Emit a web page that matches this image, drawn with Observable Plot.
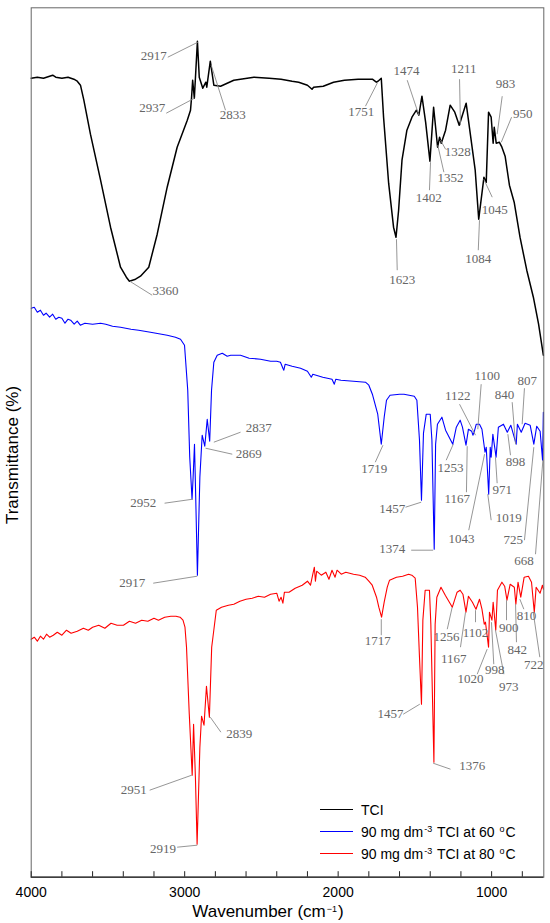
<!DOCTYPE html>
<html><head><meta charset="utf-8">
<script src="https://cdn.jsdelivr.net/npm/d3@7"></script>
<script src="https://cdn.jsdelivr.net/npm/@observablehq/plot@0.6"></script>
<style>
body{margin:0;background:#fff;}
#wrap{position:relative;width:550px;height:923px;font-family:"Liberation Sans",Arial,sans-serif;color:#000;}
#wrap svg{position:absolute;left:0;top:0;}
.ov{position:absolute;white-space:nowrap;}
.lg-row{height:22px;line-height:22px;font-size:14px;display:flex;align-items:center;}
.lg-line{display:inline-block;width:33px;height:1.6px;margin-right:8px;}
sup{font-size:9px;vertical-align:5px;line-height:0;margin:0 1px;}
</style></head><body><div id="wrap"></div>
<script>
// ---- data: [wavenumber (cm-1), transmittance (offset, a.u.)] ----
const tci = [[4000,79.9],[3960,80.0],[3920,79.9],[3880,80.1],[3860,80.2],[3840,80.0],[3800,79.9],[3760,80.0],[3722,79.8],[3700,79.6],[3679,79.2],[3657,77.7],[3614,74.3],[3548,69.7],[3483,65.0],[3418,61.0],[3380,60.0],[3360,59.6],[3320,59.8],[3288,60.1],[3234,61.0],[3179,64.3],[3114,69.0],[3049,73.0],[2983,75.7],[2962,76.7],[2955,78.0],[2948,79.7],[2937,77.9],[2917,83.6],[2905,80.0],[2882,78.9],[2862,79.5],[2856,79.0],[2833,81.6],[2810,79.2],[2766,79.1],[2680,79.7],[2549,80.0],[2450,79.9],[2372,79.8],[2300,79.6],[2257,79.5],[2200,79.2],[2170,78.8],[2160,79.0],[2097,79.1],[2030,79.5],[1959,79.7],[1870,79.8],[1777,79.8],[1751,79.5],[1740,79.6],[1719,79.9],[1704,76.0],[1671,69.4],[1639,65.0],[1623,64.0],[1606,66.7],[1584,71.7],[1552,74.7],[1519,76.0],[1490,76.7],[1474,76.2],[1454,78.1],[1430,75.5],[1402,71.6],[1378,77.0],[1352,73.0],[1339,74.0],[1328,73.4],[1300,74.7],[1270,77.2],[1240,76.5],[1211,75.2],[1166,77.4],[1107,70.7],[1084,65.8],[1050,70.0],[1035,69.5],[1020,76.5],[1003,76.0],[990,73.4],[983,75.0],[970,73.4],[950,73.5],[933,73.0],[912,72.1],[884,69.2],[853,67.5],[815,64.0],[771,60.7],[728,58.0],[694,55.3],[663,52.2]];

const tci60 = [[4000,56.9],[3980,57.0],[3960,56.5],[3940,56.7],[3920,56.2],[3903,56.4],[3880,56.0],[3860,56.3],[3840,55.8],[3820,56.0],[3800,55.9],[3780,55.4],[3760,55.8],[3743,55.7],[3720,55.3],[3700,55.6],[3680,55.2],[3650,55.4],[3600,55.3],[3548,55.4],[3514,55.3],[3470,55.1],[3418,55.0],[3350,54.8],[3300,54.7],[3223,54.5],[3150,54.3],[3114,54.2],[3060,54.0],[3027,53.8],[3001,53.2],[2980,48.7],[2967,42.0],[2952,37.8],[2945,40.0],[2936,43.3],[2928,38.0],[2917,30.2],[2901,40.0],[2886,44.2],[2869,43.1],[2853,45.8],[2837,43.6],[2825,48.7],[2810,51.5],[2788,52.2],[2755,52.4],[2723,52.1],[2700,52.2],[2636,52.2],[2580,51.9],[2506,51.8],[2440,51.6],[2400,51.6],[2376,51.5],[2360,50.9],[2354,50.7],[2345,51.3],[2300,51.1],[2245,50.9],[2200,50.6],[2175,50.0],[2165,50.3],[2100,50.0],[2040,49.8],[2025,49.3],[2015,49.8],[1982,49.7],[1900,49.6],[1822,49.5],[1800,49.2],[1777,48.3],[1742,46.3],[1719,43.3],[1700,46.0],[1685,47.7],[1662,48.2],[1600,48.3],[1571,48.3],[1504,48.1],[1487,47.7],[1470,43.7],[1457,37.7],[1444,44.4],[1426,46.3],[1400,46.3],[1389,43.7],[1374,32.8],[1365,43.3],[1353,45.3],[1324,46.0],[1300,44.7],[1253,43.3],[1230,45.0],[1205,45.7],[1190,45.0],[1167,43.2],[1151,44.8],[1130,44.6],[1122,44.2],[1114,44.5],[1100,45.3],[1079,45.3],[1063,44.8],[1043,42.5],[1035,43.0],[1019,38.3],[1009,43.0],[1003,42.0],[992,44.3],[971,42.0],[956,45.0],[923,45.3],[898,44.5],[875,45.2],[840,43.3],[832,45.3],[807,44.5],[782,45.4],[749,45.2],[725,43.3],[706,45.1],[684,44.6],[668,41.7],[663,46.5]];

const tci80 = [[4000,23.8],[3980,24.0],[3960,23.6],[3940,24.1],[3920,23.8],[3900,24.3],[3880,24.0],[3856,24.2],[3830,24.5],[3800,24.2],[3770,24.7],[3740,24.4],[3700,24.6],[3660,24.9],[3628,24.7],[3600,25.0],[3560,25.2],[3520,24.9],[3480,25.4],[3440,25.2],[3399,25.2],[3360,25.6],[3320,25.4],[3280,25.7],[3240,25.6],[3200,25.9],[3171,25.7],[3130,26.0],[3090,26.1],[3057,26.1],[3030,26.0],[3011,25.7],[2998,25.0],[2988,23.0],[2970,16.3],[2951,10.2],[2942,15.3],[2930,10.0],[2919,3.3],[2901,13.0],[2890,16.1],[2874,15.2],[2858,19.1],[2839,16.0],[2824,23.0],[2794,26.7],[2760,27.0],[2715,27.2],[2680,27.3],[2640,27.6],[2600,27.8],[2560,27.9],[2520,28.1],[2480,28.0],[2440,28.3],[2400,28.4],[2385,27.6],[2372,28.0],[2360,27.4],[2350,28.5],[2320,28.5],[2280,28.9],[2234,29.2],[2200,29.6],[2180,29.2],[2165,30.3],[2155,31.0],[2148,29.6],[2140,30.6],[2110,30.2],[2080,30.5],[2060,29.8],[2040,30.7],[2020,30.0],[2007,30.7],[1980,30.3],[1950,30.5],[1900,30.3],[1860,30.2],[1824,30.0],[1800,29.6],[1778,29.2],[1750,28.0],[1735,27.0],[1717,26.0],[1700,27.5],[1680,29.0],[1665,29.7],[1620,30.0],[1580,30.1],[1541,30.3],[1520,30.2],[1498,29.9],[1483,27.0],[1470,22.0],[1457,17.3],[1448,25.7],[1433,28.7],[1405,28.7],[1396,25.3],[1376,11.5],[1368,25.3],[1357,28.0],[1330,29.0],[1302,28.2],[1256,27.0],[1225,28.5],[1205,28.7],[1187,28.3],[1167,26.5],[1151,28.1],[1125,27.5],[1102,26.8],[1079,27.8],[1063,26.8],[1048,25.3],[1040,25.5],[1020,23.0],[1014,26.5],[998,25.7],[990,27.5],[973,24.7],[962,28.7],[933,29.5],[915,29.1],[900,27.7],[879,29.3],[852,29.0],[842,27.3],[828,29.5],[810,28.0],[788,30.0],[760,30.1],[740,29.5],[722,26.5],[710,29.0],[684,28.4],[669,29.2],[663,28.8]];

// peak annotations: [label, textWn, textT, leaderWn1, leaderT1, leaderWn2, leaderT2]
const tciPeaks = [["2917",3201,82.1,3110,82.0,2914,83.5],["2937",3212,76.9,3120,76.4,2936,77.9],["2833",2686,76.2,2734,76.7,2827,81.2],["3360",3125,58.6,3212,58.2,3358,59.6],["1751",1850,76.5,1822,77.1,1742,79.5],["1474",1555,80.6,1550,79.7,1474,76.2],["1211",1181,80.8,1209,79.8,1203,75.2],["983",909,79.3,931,78.1,964,74.3],["950",797,76.3,870,76.0,937,73.5],["1328",1220,72.5,1300,72.8,1333,73.7],["1352",1268,69.9,1311,70.5,1351,73.2],["1402",1409,67.9,1405,68.7,1398,71.5],["1045",979,66.7,996,68.0,1051,69.8],["1084",1087,61.8,1087,62.7,1079,65.7],["1623",1583,59.7,1615,60.7,1620,63.8]];
const tci60Peaks = [["2837",2517,44.9,2636,44.5,2810,43.5],["2869",2582,42.3,2690,42.3,2864,42.9],["2952",3270,37.4,3131,37.4,2947,37.8],["2917",3342,29.4,3205,29.4,2918,30.1],["1719",1765,40.8,1758,41.5,1708,43.2],["1457",1648,36.8,1561,37.0,1459,37.5],["1374",1648,32.8,1524,32.7,1381,32.7],["1253",1268,40.9,1296,41.7,1250,43.3],["1167",1224,37.8,1164,38.5,1159,43.1],["1122",1220,48.1,1209,47.3,1105,44.2],["1100",1029,50.1,1068,49.3,1090,44.8],["1043",1196,33.8,1149,34.7,1046,42.3],["1019",888,35.9,1003,35.7,1025,38.3],["971",931,38.7,964,39.4,975,42.0],["898",844,41.5,877,42.2,894,44.3],["840",916,48.2,866,47.5,844,43.3],["807",768,49.6,786,48.9,801,45.3],["725",859,33.7,786,33.7,725,43.0],["668",789,31.6,714,32.3,666,41.7]];
const tci80Peaks = [["1717",1742,23.6,1719,24.2,1719,25.8],["1457",1659,16.3,1576,16.3,1468,17.3],["1376",1126,11.1,1268,10.8,1381,11.4],["1256",1294,24.0,1289,24.8,1257,27.0],["1167",1246,21.8,1203,23.0,1170,26.5],["1102",1105,24.4,1105,25.5,1105,26.7],["1020",1137,19.8,1094,20.3,1029,22.8],["998",979,20.7,986,21.3,1001,25.5],["973",888,19.0,920,20.3,975,24.7],["900",888,24.9,903,25.7,903,27.7],["842",833,22.7,838,23.5,844,27.3],["810",773,26.1,790,26.8,816,27.8],["722",725,21.2,686,22.0,729,26.5],["2839",2645,14.3,2764,14.5,2833,16.0],["2951",3331,8.7,3228,8.7,2954,10.2],["2919",3142,2.8,3049,3.0,2918,3.2]];

const xTicks = [4000, 3000, 2000, 1000];
const minorTicks = [4000,3800,3600,3400,3200,3000,2800,2600,2400,2200,2000,1800,1600,1400,1200,1000,800];
const seriesNames = ["TCI", "90 mg dm-3 TCI at 60 oC", "90 mg dm-3 TCI at 80 oC"];
const seriesColors = ["#000000", "#0000ff", "#ff0000"];
const seriesData = [tci, tci60, tci80];

const peaks = [...tciPeaks, ...tci60Peaks, ...tci80Peaks];

const lineMarks = seriesData.map((d, i) => Plot.line(d, {x: p => p[0], y: p => p[1], stroke: seriesColors[i], strokeWidth: i === 0 ? 1.5 : 1.1, curve: "linear"}));

const chart = Plot.plot({
  width: 550, height: 923,
  marginLeft: 30.7, marginRight: 6.7, marginTop: 7.3, marginBottom: 46.3,
  style: {fontFamily: "Liberation Sans, Arial, sans-serif", fontSize: "14px", background: "white", color: "#000"},
  x: {domain: [4000, 660]},
  y: {domain: [0, 86.94], axis: null},
  marks: [
    ...lineMarks,
    Plot.link(peaks, {x1: d => d[3], y1: d => d[4], x2: d => d[5], y2: d => d[6], stroke: "#8a8a8a", strokeWidth: 0.9}),
    Plot.text(peaks, {x: d => d[1], y: d => d[2], text: d => d[0], fontFamily: "Liberation Serif, serif", fontSize: 13, fill: "#666666", textAnchor: "middle", lineAnchor: "middle"}),
    Plot.frame({stroke: "#666"}),
    Plot.ruleY([0], {stroke: "#222", strokeWidth: 1.2}),
    Plot.ruleX(minorTicks, {x: d => d, y1: 0, y2: 0.55, stroke: "#222"}),
    Plot.axisX(xTicks, {tickSize: 0, tickPadding: 10, tickFormat: d => String(d), label: null, fontSize: 14})
  ]
});

const wrap = document.getElementById("wrap");
wrap.appendChild(chart);

// axis titles
const xt = document.createElement("div");
xt.className = "ov";
xt.style.cssText = "left:268px;top:902px;transform:translateX(-50%);font-size:17px;line-height:19px;";
xt.innerHTML = "Wavenumber (cm<sup>&minus;1</sup>)";
wrap.appendChild(xt);

const yt = document.createElement("div");
yt.className = "ov";
yt.style.cssText = "left:13px;top:455px;transform:translate(-50%,-50%) rotate(-90deg);font-size:17px;line-height:20px;";
yt.textContent = "Transmittance (%)";
wrap.appendChild(yt);

// legend
const lg = document.createElement("div");
lg.className = "ov";
lg.style.cssText = "left:320px;top:798.5px;";
const legendHtml = [
  "TCI",
  "90 mg dm<sup>-3</sup> TCI at 60 <sup>o</sup>C",
  "90 mg dm<sup>-3</sup> TCI at 80 <sup>o</sup>C"
];
seriesNames.forEach((n, i) => {
  const row = document.createElement("div");
  row.className = "lg-row";
  row.innerHTML = `<span class="lg-line" style="background-color:${seriesColors[i]}"></span><span>${legendHtml[i]}</span>`;
  lg.appendChild(row);
});
wrap.appendChild(lg);
</script>
</body></html>
